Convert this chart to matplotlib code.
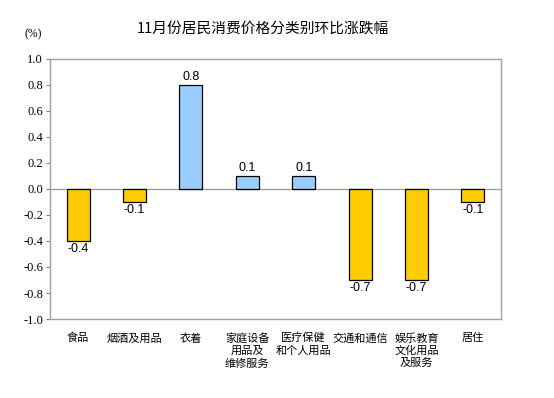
import numpy as np
import matplotlib
matplotlib.use("Agg")
import matplotlib.pyplot as plt

plt.rcParams['font.family'] = ['Noto Sans CJK SC', 'DejaVu Sans']

categories = ["食品", "烟酒及用品", "衣着", "家庭设备\n用品及\n维修服务", "医疗保健\n和个人用品",
              "交通和通信", "娱乐教育\n文化用品\n及服务", "居住"]
values = [-0.4, -0.1, 0.8, 0.1, 0.1, -0.7, -0.7, -0.1]
yticks = [-1.0, -0.8, -0.6, -0.4, -0.2, 0.0, 0.2, 0.4, 0.6, 0.8, 1.0]

fig = plt.figure(figsize=(5.54, 3.98), dpi=100)
ax = fig.add_axes([50 / 554, 1 - 319 / 398, 451 / 554, 260 / 398])

x = np.arange(len(categories))
colors = ["#99CCFF" if v > 0 else "#FFCC00" for v in values]
ax.bar(x, values, width=0.41, color=colors, edgecolor="black", linewidth=0.9, zorder=3)

for xi, v in zip(x, values):
    if v > 0:
        ax.text(xi, v + 0.015, f"{v:.1f}", ha="center", va="bottom", fontsize=9,
                family="Liberation Sans")
    else:
        ax.text(xi, v - 0.015, f"{v:.1f}", ha="center", va="top", fontsize=9,
                family="Liberation Sans")

ax.set_xlim(-0.5, len(categories) - 0.5)
ax.set_ylim(-1.0, 1.0)
ax.set_yticks(yticks)
ax.set_yticklabels([f"{t:.1f}" for t in yticks], family="Liberation Serif", fontsize=9)
ax.set_xticks(x)
ax.set_xticklabels(categories, fontsize=8, linespacing=1.25, va="top")
ax.tick_params(axis="x", length=0, pad=10)
ax.tick_params(axis="y", length=3, width=0.8, color="#808080", pad=2)
ax.axhline(0, color="#A0A0A0", linewidth=1, zorder=2)
for s in ax.spines.values():
    s.set_color("#A0A0A0")
    s.set_linewidth(1)

fig.text(263 / 554, 1 - 30 / 398, "11月份居民消费价格分类别环比涨跌幅", ha="center", va="center",
         fontsize=10.6)
fig.text(33 / 554, 1 - 34 / 398, "(%)", ha="center", va="center", fontsize=8.5,
         family="Liberation Serif")

fig.savefig("out.png", dpi=100)
